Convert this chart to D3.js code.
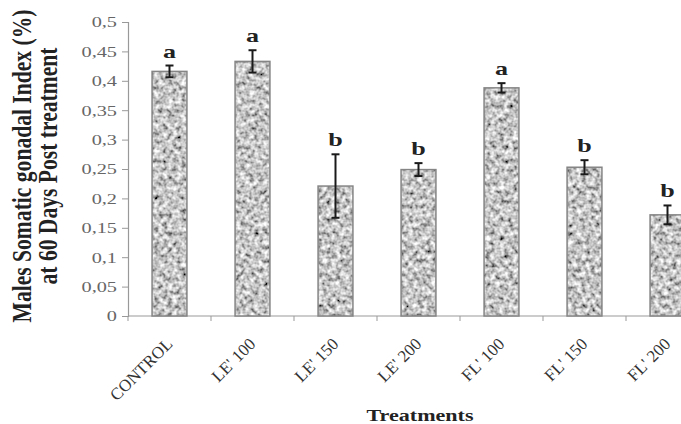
<!DOCTYPE html>
<html>
<head>
<meta charset="utf-8">
<script src="https://cdn.jsdelivr.net/npm/d3@7"></script>
<style>
  body { margin: 0; background: #fff; }
  svg { display: block; }
</style>
</head>
<body>
<div id="chart"></div>
<script>
// data
const treatments = ['CONTROL', "LE' 100", "LE' 150", "LE' 200", "FL' 100", "FL' 150", "FL' 200"]
const means = [0.416, 0.433, 0.221, 0.249, 0.388, 0.253, 0.172]
const errors = [0.010, 0.019, 0.054, 0.011, 0.008, 0.012, 0.016]
const letters = ['a', 'a', 'b', 'b', 'a', 'b', 'b']
const yTicks = [0, 0.05, 0.1, 0.15, 0.2, 0.25, 0.3, 0.35, 0.4, 0.45, 0.5]
const yTickLabels = ['0', '0,05', '0,1', '0,15', '0,2', '0,25', '0,3', '0,35', '0,4', '0,45', '0,5']

const width = 681
const height = 424
const stretch = 1.45   // the picture is squeezed wide, text looks stretched

const svg = d3.select('#chart')
  .append('svg')
  .attr('width', width)
  .attr('height', height)

const x = d3.scaleBand()
  .domain(treatments)
  .range([128, 709])
  .paddingInner(0.58)
  .paddingOuter(0.29)

const y = d3.scaleLinear()
  .domain([0, 0.5])
  .range([316, 22])

// granite-like texture for the bars
const defs = svg.append('defs')
const filt = defs.append('filter')
  .attr('id', 'granite')
  .attr('x', 0).attr('y', 0).attr('width', 1).attr('height', 1)
filt.append('feTurbulence')
  .attr('type', 'fractalNoise')
  .attr('baseFrequency', 0.22)
  .attr('numOctaves', 2)
  .attr('seed', 7)
  .attr('result', 'noise')
filt.append('feColorMatrix')
  .attr('in', 'noise')
  .attr('type', 'matrix')
  .attr('values', '1.6 0 0 0 -0.24  1.6 0 0 0 -0.24  1.6 0 0 0 -0.24  0 0 0 0 1')
  .attr('result', 'gray')
filt.append('feComposite')
  .attr('in', 'gray')
  .attr('in2', 'SourceGraphic')
  .attr('operator', 'in')

// axes
const yAxis = svg.append('g')
  .attr('transform', 'translate(128,0)')
  .call(d3.axisLeft(y).tickValues(yTicks).tickFormat((d, i) => yTickLabels[i]).tickSize(6).tickPadding(0))
yAxis.select('.domain').attr('stroke', '#999').attr('stroke-width', 1.2)
yAxis.selectAll('.tick line').attr('stroke', '#999')
yAxis.selectAll('.tick text')
  .attr('x', -11 / stretch)
  .attr('dy', '0.35em')
  .attr('transform', `scale(${stretch},1)`)
  .attr('font-family', 'Liberation Serif, serif')
  .attr('font-size', 14)
  .attr('fill', '#666')

const xAxis = svg.append('g')
  .attr('transform', 'translate(0,316)')
xAxis.append('line')
  .attr('x1', 128).attr('x2', width)
  .attr('stroke', '#999').attr('stroke-width', 1.2)
xAxis.selectAll('line.tk')
  .data(treatments)
  .enter().append('line')
  .attr('class', 'tk')
  .attr('x1', d => x(d) - x.step() * x.paddingInner() / 2)
  .attr('x2', d => x(d) - x.step() * x.paddingInner() / 2)
  .attr('y1', 0).attr('y2', 5)
  .attr('stroke', '#999')

xAxis.selectAll('text')
  .data(treatments)
  .enter().append('text')
  .attr('transform', d => `translate(${x(d) + x.bandwidth() / 2 + 4},${29}) rotate(-45)`)
  .attr('text-anchor', 'end')
  .attr('font-family', 'Liberation Serif, serif')
  .attr('font-size', 17)
  .attr('fill', '#333')
  .text(d => d)

// bars
const bars = svg.append('g')
bars.selectAll('rect.fill')
  .data(means)
  .enter().append('rect')
  .attr('class', 'fill')
  .attr('x', (d, i) => x(treatments[i]))
  .attr('y', d => y(d))
  .attr('width', x.bandwidth())
  .attr('height', d => y(0) - y(d))
  .attr('fill', '#a0a0a0')
  .attr('filter', 'url(#granite)')
bars.selectAll('rect.edge')
  .data(means)
  .enter().append('rect')
  .attr('class', 'edge')
  .attr('x', (d, i) => x(treatments[i]))
  .attr('y', d => y(d))
  .attr('width', x.bandwidth())
  .attr('height', d => y(0) - y(d))
  .attr('fill', 'none')
  .attr('stroke', '#858585')
  .attr('stroke-width', 1.5)

// error bars
const err = svg.append('g').attr('stroke', '#1a1a1a').attr('stroke-width', 2)
means.forEach((m, i) => {
  const cx = x(treatments[i]) + x.bandwidth() / 2
  err.append('line').attr('x1', cx).attr('x2', cx).attr('y1', y(m + errors[i])).attr('y2', y(m - errors[i]))
  err.append('line').attr('x1', cx - 4).attr('x2', cx + 4).attr('y1', y(m + errors[i])).attr('y2', y(m + errors[i]))
  err.append('line').attr('x1', cx - 4).attr('x2', cx + 4).attr('y1', y(m - errors[i])).attr('y2', y(m - errors[i]))
})

// significance letters
svg.append('g').selectAll('text')
  .data(letters)
  .enter().append('text')
  .attr('transform', (d, i) => `translate(${x(treatments[i]) + x.bandwidth() / 2},${y(means[i] + errors[i]) - 8}) scale(${stretch},1)`)
  .attr('text-anchor', 'middle')
  .attr('font-family', 'Liberation Serif, serif')
  .attr('font-weight', 'bold')
  .attr('font-size', 18)
  .attr('fill', '#222')
  .text(d => d)

// axis titles
const yTitle = [
  { text: 'Males Somatic gonadal Index (%)', x: 31, len: 313 },
  { text: 'at 60 Days Post treatment', x: 57, len: 237 }
]
svg.append('g').selectAll('text')
  .data(yTitle)
  .enter().append('text')
  .attr('transform', d => `translate(${d.x},166) scale(${stretch},1) rotate(-90)`)
  .attr('text-anchor', 'middle')
  .attr('font-family', 'Liberation Serif, serif')
  .attr('font-weight', 'bold')
  .attr('font-size', 19)
  .attr('textLength', d => d.len)
  .attr('lengthAdjust', 'spacingAndGlyphs')
  .attr('fill', '#222')
  .text(d => d.text)

svg.append('text')
  .attr('transform', `translate(420,421) scale(1.3,1)`)
  .attr('text-anchor', 'middle')
  .attr('font-family', 'Liberation Serif, serif')
  .attr('font-weight', 'bold')
  .attr('font-size', 17)
  .attr('fill', '#222')
  .text('Treatments')
</script>
</body>
</html>
